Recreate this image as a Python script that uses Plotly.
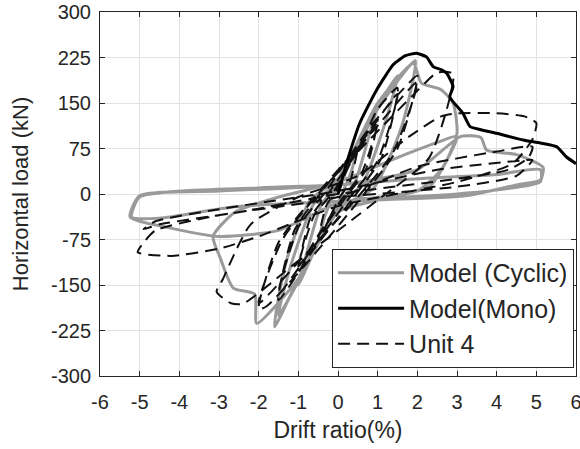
import plotly.graph_objects as go

# ---- Data ----
cyc_x = [0, 0.3, 0.5, 0.35, 0.1, -0.3, -0.5, -0.35, -0.1, 0.4, 0.8, 1.0, 0.8, 0.4, 0.0, -0.5, -1.0, -0.8, -0.4,
         0.0, 0.7, 1.5, 1.2, 0.6, 0.0, -0.8, -1.5, -1.2, -0.6, 0.0, 1.0, 1.95, 1.6, 0.9, 0.0, -1.0, -1.6, -1.3,
         -0.7, 0.0, 1.0, 1.9, 2.1, 2.6, 2.9, 3.0, 2.7, 2.3, 1.0, 0.0, -1.0, -2.05, -2.1, -2.64, -2.97, -3.15,
         -2.6, -1.5, 0.0, 1.5, 2.5, 3.0, 2.6, 2.0, 0.0, -1.5, -3.0, -4.3, -5.24, -5.0, -3.0, 0.0, 2.0, 3.1,
         3.6, 3.75, 4.5, 5.17, 5.1, 4.5, 3.2, 0.0, -2.6, -4.5, -5.2, -5.0, -2.0, 0.0, 2.0, 4.0, 5.1, 5.1, 3.0, 0.5]
cyc_y = [0, 55, 80, 40, 0, -55, -82, -40, 0, 70, 125, 148, 100, 15, -15, -80, -150, -100, -15,
         15, 110, 195, 120, 15, -20, -120, -200, -120, -15, 20, 140, 220, 110, 10, -25, -140, -219, -110,
         -10, 25, 150, 215, 183, 172, 150, 100, 50, 12, -10, -30, -140, -213, -165, -155, -105, -70,
         -30, -5, 20, 60, 85, 95, 40, 5, -15, -60, -70, -55, -38, -3, 5, 15, 40, 95,
         93, 72, 65, 44, 23, 15, -3, -12, -21, -40, -38, -5, 10, 15, 25, 32, 40, 20, 0, -8]

mono_x = [0, 0.25, 0.55, 0.97, 1.39, 1.7, 1.98, 2.23, 2.4, 2.6, 2.74, 2.9, 2.82, 3.15, 3.33, 3.6, 4.0, 4.67,
          5.1, 5.51, 5.76, 6.0]
mono_y = [0, 58, 117, 171, 213, 228, 232, 226, 210, 205, 199, 177, 160, 133, 111, 106, 100, 89, 84, 78, 61, 50]

unit_x = [0, 0.25, 0.5, 0.3, 0.0, -0.25, -0.5, -0.3, 0.0, 0.5, 1.0, 0.7, 0.2, -0.5, -1.0, -0.7, -0.2,
          0.5, 1.0, 0.6, 0.1, -0.5, -1.0, -0.6, -0.1, 0.6,
          1.0, 1.5, 1.1, 0.4, -0.6, -1.5, -1.1, -0.4, 0.7, 1.5, 1.0, 0.3, -0.7, -1.5, -1.0, -0.3,
          0.8, 1.6, 2.0, 1.5, 0.6, -0.8, -1.8, -2.0, -1.5, -0.6, 0.9, 2.0, 1.4, 0.5, -0.9, -2.0, -1.4, -0.5,
          0.8, 2.0, 2.5, 2.9, 2.3, 1.0, -1.0, -2.4, -2.7, -3.06, -2.9, -2.2, -1.0, 0.5, 1.8, 2.6, 3.0, 4.0,
          4.7, 5.0, 4.9, 4.4, 3.0, 0.0, -2.0, -3.0, -4.2, -5.05, -4.9, -4.6, -3.0, 0.0, 2.0, 4.0, 4.9, 4.8,
          4.3, 3.0, 0.0, -2.5, -4.5, -4.9, -4.6, -3.0, 0.0, 2.5, 4.6, 4.9, 4.5, 3.0, 0.0]
unit_y = [0, 45, 78, 20, -10, -45, -78, -20, 10, 75, 125, 40, -5, -70, -128, -40, 5,
          70, 118, 35, -8, -68, -120, -35, 5, 85,
          140, 175, 60, -5, -90, -175, -60, 5, 95, 165, 55, -5, -95, -165, -55, 5,
          110, 170, 195, 75, -5, -115, -185, -190, -80, -5, 105, 185, 70, -5, -105, -180, -75, 0,
          90, 170, 200, 198, 60, -10, -110, -181, -180, -161, -140, -50, -5, 30, 95, 128, 133, 133,
          128, 117, 90, 50, 20, -20, -70, -90, -102, -96, -80, -60, -35, -5, 45, 70, 78, 60,
          40, 25, 0, -30, -50, -58, -45, -25, 5, 40, 55, 56, 30, 12, -5]

x_ticks = [-6, -5, -4, -3, -2, -1, 0, 1, 2, 3, 4, 5, 6]
y_ticks = [-300, -225, -150, -75, 0, 75, 150, 225, 300]

FONT = "Liberation Sans, Arial"

fig = go.Figure()
fig.add_trace(go.Scatter(x=cyc_x, y=cyc_y, mode="lines", name="Model (Cyclic)", legendrank=1,
                         line=dict(color="#9a9a9a", width=3, shape="spline", smoothing=0.6)))
fig.add_trace(go.Scatter(x=unit_x, y=unit_y, mode="lines", name="Unit 4", legendrank=3,
                         line=dict(color="#111111", width=2, dash="12px,7px", shape="spline", smoothing=0.6)))
fig.add_trace(go.Scatter(x=mono_x, y=mono_y, mode="lines", name="Model(Mono)", legendrank=2,
                         line=dict(color="#000000", width=3, shape="spline", smoothing=0.5)))

axis_common = dict(showgrid=True, gridcolor="#e2e2e2", gridwidth=1, zeroline=False,
                   showline=True, linecolor="#262626", linewidth=1, mirror="ticks",
                   ticks="inside", ticklen=5, tickcolor="#262626",
                   ticklabeloverflow="allow", automargin=False,
                   tickfont=dict(family=FONT, size=20, color="#262626"))

fig.update_layout(
    width=580, height=449,
    margin=dict(l=100, r=4, t=12, b=73),
    paper_bgcolor="white", plot_bgcolor="white",
    xaxis=dict(range=[-6, 6], tickvals=x_ticks, ticktext=[str(v) for v in x_ticks],
               ticklabelstandoff=8,
               title=dict(text="Drift ratio(%)", standoff=9,
                          font=dict(family=FONT, size=23, color="#262626")),
               **axis_common),
    yaxis=dict(range=[-300, 300], tickvals=y_ticks, ticktext=[str(v) for v in y_ticks],
               ticklabelstandoff=4,
               title=dict(text="Horizontal load (kN)", standoff=16,
                          font=dict(family=FONT, size=22, color="#262626")),
               **axis_common),
    legend=dict(x=0.996, y=0.022, xanchor="right", yanchor="bottom",
                bgcolor="white", bordercolor="#262626", borderwidth=1,
                font=dict(family=FONT, size=25, color="#262626"),
                itemwidth=66, tracegroupgap=0),
    showlegend=True,
)

fig.write_html("out.html")
